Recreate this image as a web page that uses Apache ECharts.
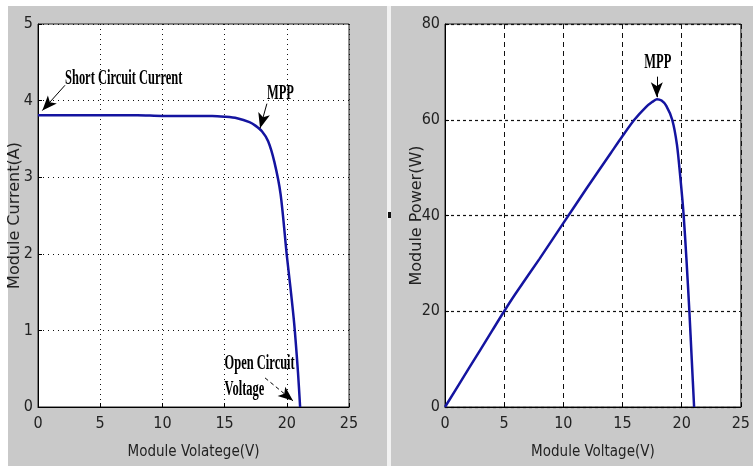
<!DOCTYPE html>
<html>
<head>
<meta charset="utf-8">
<script src="https://cdn.jsdelivr.net/npm/echarts@6/dist/echarts.min.js"></script>
<style>
html,body{margin:0;padding:0;background:#fff;}
#c{width:753px;height:466px;}
</style>
</head>
<body>
<div id="c"></div>
<script>
// I-V curve (left)
const ivVoltage = [0,2,4,6,8,10,12,14,15,16,17,17.5,18,18.5,19,19.5,20,20.3,20.6,20.9,21.07];
const ivCurrent = [3.81,3.81,3.81,3.81,3.81,3.80,3.80,3.80,3.79,3.77,3.72,3.67,3.60,3.47,3.20,2.78,1.98,1.55,1.08,0.45,0];
// P-V curve (right)
const pvVoltage = [0,2,4,5,6,8,10,12,14,15,16,17,17.5,17.9,18.3,18.7,19.2,19.6,19.9,20.16,20.4,20.65,20.85,21.05];
const pvPower   = [0,8,16,20,23.8,31,38.4,45.8,53.0,56.6,60.0,62.7,63.7,64.3,64.0,62.9,60,54.8,47.6,40.3,31,20,10,0];
// tick labels
const voltTicks = [0,5,10,15,20,25];
const currentTicks = [0,1,2,3,4,5];
const powerTicks = [0,20,40,60,80];
// annotations (data coordinates)
const ivNotes = [
  {text:'Short Circuit Current', at:[2.17,4.29]},
  {text:'MPP', at:[18.4,4.10]},
  {text:'Open Circuit', at:[15.0,0.57]},
  {text:'Voltage', at:[15.0,0.23]}
];
const ivArrows = [
  {from:[2.17,4.20], to:[0.35,3.87], dashed:false},
  {from:[18.4,3.96], to:[17.85,3.64], dashed:false},
  {from:[18.25,0.38], to:[20.5,0.08], dashed:true}
];
const pvNotes = [{text:'MPP', at:[17.98,71.9]}];
const pvArrows = [{from:[17.9,69.0], to:[17.9,64.7], dashed:false}];

const pairs = (xs, ys) => xs.map((x,i)=>[x, ys[i]]);
const tickFont = '"Liberation Sans Narrow","DejaVu Sans Condensed",sans-serif';

function xAx(gi, name, vType){
  return {
    type:'value', gridIndex:gi, min:voltTicks[0], max:voltTicks[voltTicks.length-1], interval:5,
    name:name, nameLocation:'middle', nameGap:38, nameMoveOverlap:false,
    nameTextStyle:{fontFamily:tickFont, fontSize:15, color:'#222'},
    axisLine:{onZero:false, lineStyle:{color:'#000', width:1}},
    axisTick:{inside:true, length:4, lineStyle:{color:'#000'}},
    axisLabel:{fontFamily:tickFont, fontSize:16, color:'#222', margin:9},
    splitLine:{show:true, lineStyle:{color:'#111', width:1, type:vType}}
  };
}
function yAx(gi, name, min, max, interval, gap, hType){
  return {
    type:'value', gridIndex:gi, min:min, max:max, interval:interval,
    name:name, nameLocation:'middle', nameGap:gap, nameMoveOverlap:false,
    nameTextStyle:{fontFamily:'"DejaVu Sans",sans-serif', fontSize:16, color:'#222'},
    axisLine:{show:true, onZero:false, lineStyle:{color:'#000', width:1}},
    axisTick:{show:true, inside:true, length:4, lineStyle:{color:'#000'}},
    axisLabel:{fontFamily:tickFont, fontSize:16, color:'#222', margin:5},
    splitLine:{show:true, lineStyle:{color:'#111', width:1.2, type:hType}}
  };
}
function arrowLines(arr){
  return arr.map(a=>[
    {coord:a.from, symbol:'none', lineStyle:{type:a.dashed?[4,3]:'solid'}},
    {coord:a.to, symbol:'arrow', symbolSize:[9,15]}
  ]);
}

const chart = echarts.init(document.getElementById('c'));
const option = {
  backgroundColor:'#c9c9c9',
  animation:false,
  grid:[
    {left:38, top:24, width:311, height:383, show:true, backgroundColor:'#fff', borderColor:'#222', borderWidth:1},
    {left:445, top:24, width:310, height:383, show:true, backgroundColor:'#fff', borderColor:'#222', borderWidth:1}
  ],
  xAxis:[ xAx(0,'Module Volatege(V)',[1,4]), xAx(1,'Module Voltage(V)',[5,4]) ],
  yAxis:[
    yAx(0,'Module Current(A)',currentTicks[0],currentTicks[currentTicks.length-1],1,15,[1,4]),
    yAx(1,'Module Power(W)',powerTicks[0],powerTicks[powerTicks.length-1],20,20,[3,3])
  ],
  series:[
    {type:'line', xAxisIndex:0, yAxisIndex:0, data:pairs(ivVoltage, ivCurrent), showSymbol:false, smooth:0.3,
     lineStyle:{color:'#1414a0', width:2.5}, silent:true,
     markLine:{silent:true, symbol:['none','arrow'], label:{show:false}, lineStyle:{color:'#000', width:1}, data:arrowLines(ivArrows)}},
    {type:'line', xAxisIndex:1, yAxisIndex:1, data:pairs(pvVoltage, pvPower), showSymbol:false, smooth:0.25,
     lineStyle:{color:'#1414a0', width:2.5}, silent:true,
     markLine:{silent:true, symbol:['none','arrow'], label:{show:false}, lineStyle:{color:'#000', width:1}, data:arrowLines(pvArrows)}}
  ]
};
chart.setOption(option);

const noteFont = 'bold 16px "Liberation Serif","DejaVu Serif",serif';
const graphics = [
  {type:'rect', shape:{x:0,y:0,width:753,height:6}, style:{fill:'#fff'}, z:-10},
  {type:'rect', shape:{x:0,y:0,width:8,height:466}, style:{fill:'#fff'}, z:-10},
  {type:'rect', shape:{x:387,y:6,width:4,height:460}, style:{fill:'#f2f2f2'}, z:-10},
  {type:'rect', shape:{x:388,y:212,width:3,height:6}, style:{fill:'#111'}, z:-10}
];
function addNotes(gi, notes, center){
  notes.forEach(n=>{
    const p = chart.convertToPixel({gridIndex:gi}, n.at);
    graphics.push({type:'text', x:p[0], y:p[1], scaleX:0.78, scaleY:1.35, z:100,
      style:{text:n.text, font:noteFont, fill:'#000', align:center?'center':'left', verticalAlign:'middle'}});
  });
}
addNotes(0, ivNotes, false);
addNotes(1, pvNotes, true);
chart.setOption({graphic:graphics});
</script>
</body>
</html>
